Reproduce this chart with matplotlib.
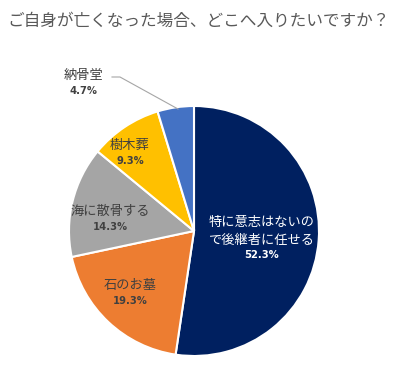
import matplotlib
matplotlib.use("Agg")
import matplotlib.pyplot as plt

plt.rcParams['font.family'] = ['Noto Sans CJK JP', 'DejaVu Sans']

categories = ["特に意志はないの\nで後継者に任せる", "石のお墓", "海に散骨する", "樹木葬", "納骨堂"]
values = [52.3, 19.3, 14.3, 9.3, 4.7]
pct_labels = ["52.3%", "19.3%", "14.3%", "9.3%", "4.7%"]
colors = ["#002060", "#ED7D31", "#A5A5A5", "#FFC000", "#4472C4"]
title = "ご自身が亡くなった場合、どこへ入りたいですか？"

W, H = 402, 369
fig = plt.figure(figsize=(W / 100, H / 100), dpi=100)
ax = fig.add_axes([0, 0, 1, 1])

cx, cy, r = 194, H - 231, 125
ax.pie(values, colors=colors, startangle=90, counterclock=False,
       center=(cx, cy), radius=r, frame=True,
       wedgeprops=dict(edgecolor='white', linewidth=1.5))
ax.set_xlim(0, W)
ax.set_ylim(0, H)
ax.set_aspect('equal')
ax.axis('off')

fig.text(7 / W, 1 - 21 / H, title, fontsize=12.0, color='#595959', va='center', ha='left')

# label positions (pixel coords in the image: x, y of name line)
pos = [(262, 222), (130, 285), (110, 211), (130, 145), (84, 75)]
tcol = ['white', '#404040', '#404040', '#404040', '#404040']
for name, pct, (x, y), c in zip(categories, pct_labels, pos, tcol):
    lines = name.split("\n")
    for i, ln in enumerate(lines):
        ax.text(x, H - (y + i * 18), ln, ha='center', va='center', fontsize=9.5, color=c)
    ax.text(x, H - (y + len(lines) * 16.5), pct, ha='center', va='center', fontsize=7.2,
            fontweight='bold', color=c, family='DejaVu Sans')

# leader line for 納骨堂
ax.plot([112, 120, 178], [H - 77, H - 77, H - 109], color='#A6A6A6', lw=0.8)

fig.savefig("out.png", dpi=100)
